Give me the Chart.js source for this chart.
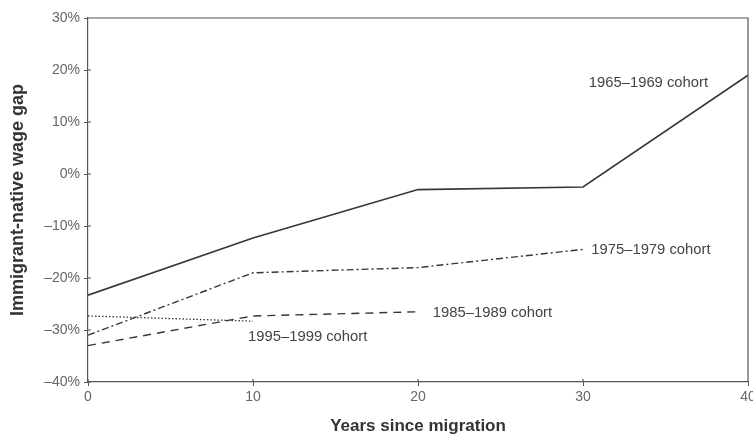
<!DOCTYPE html>
<html>
<head>
<meta charset="utf-8">
<script src="https://cdn.jsdelivr.net/npm/chart.js@4"></script>
<style>
  html, body { margin: 0; padding: 0; background: #fff; }
  #wrap { width: 753px; height: 437px; }
</style>
</head>
<body>
<div id="wrap"><canvas id="chart" width="753" height="437"></canvas></div>
<script>
// Years since migration
const years = [0, 10, 20, 30, 40];

// Immigrant-native wage gap (%) per arrival cohort
const cohort1965 = [-23.3, -12.3, -3, -2.5, 19];
const cohort1975 = [-31, -19, -18, -14.5];
const cohort1985 = [-33, -27.3, -26.5];
const cohort1995 = [-27.3, -28.3];

const cohortNames = ['1965\u20131969 cohort', '1975\u20131979 cohort', '1985\u20131989 cohort', '1995\u20131999 cohort'];

// where each cohort name sits (data coordinates, left edge of the text)
const labelSpots = [
    { x: 30.35, y: 17.5 },
    { x: 30.5, y: -14.6 },
    { x: 20.9, y: -26.7 },
    { x: 9.7, y: -31.35 }
];

const yTicks = [-40, -30, -20, -10, 0, 10, 20, 30];

const ink = '#363636';
const axisGray = '#555';
const fontFam = '"Liberation Sans", Arial, sans-serif';

function toPoints(values) {
    return values.map((v, i) => ({ x: years[i], y: v }));
}

// Frame round the plot, inner tick stubs and the cohort names
const framePlugin = {
    id: 'frame',
    afterDatasetsDraw(chart) {
        const { ctx, chartArea, scales } = chart;
        ctx.save();
        ctx.strokeStyle = axisGray;
        ctx.lineWidth = 1.2;
        ctx.beginPath();
        ctx.moveTo(chartArea.left, chartArea.top);
        ctx.lineTo(chartArea.right, chartArea.top);
        ctx.lineTo(chartArea.right, chartArea.bottom);
        // tick marks poke a little into the plot as well
        scales.y.ticks.forEach(t => {
            const py = scales.y.getPixelForValue(t.value);
            ctx.moveTo(chartArea.left, py);
            ctx.lineTo(chartArea.left + 3, py);
        });
        scales.x.ticks.forEach(t => {
            const px = scales.x.getPixelForValue(t.value);
            ctx.moveTo(px, chartArea.bottom);
            ctx.lineTo(px, chartArea.bottom - 3);
        });
        ctx.stroke();

        ctx.fillStyle = '#444';
        ctx.font = '14.8px ' + fontFam;
        ctx.textBaseline = 'middle';
        ctx.textAlign = 'left';
        labelSpots.forEach((spot, i) => {
            ctx.fillText(cohortNames[i], scales.x.getPixelForValue(spot.x), scales.y.getPixelForValue(spot.y));
        });
        ctx.restore();
    }
};

const ctx = document.getElementById('chart').getContext('2d');

new Chart(ctx, {
    type: 'line',
    data: {
        datasets: [
            { label: cohortNames[0], data: toPoints(cohort1965), borderColor: ink, borderWidth: 1.6 },
            { label: cohortNames[1], data: toPoints(cohort1975), borderColor: ink, borderWidth: 1.4, borderDash: [7, 3, 2, 3] },
            { label: cohortNames[2], data: toPoints(cohort1985), borderColor: ink, borderWidth: 1.4, borderDash: [8, 6] },
            { label: cohortNames[3], data: toPoints(cohort1995), borderColor: ink, borderWidth: 1.3, borderDash: [1.5, 2] }
        ]
    },
    options: {
        responsive: false,
        animation: false,
        elements: {
            point: { radius: 0 },
            line: { tension: 0, fill: false }
        },
        layout: { padding: { top: 18, right: 5, left: 0, bottom: 0 } },
        plugins: {
            legend: { display: false },
            tooltip: { enabled: false }
        },
        scales: {
            x: {
                type: 'linear',
                min: 0,
                max: 40,
                ticks: {
                    stepSize: 10,
                    color: '#666',
                    font: { size: 14, family: fontFam },
                    padding: 3,
                    maxRotation: 0
                },
                grid: { drawOnChartArea: false, tickLength: 4, color: axisGray },
                border: { color: axisGray, width: 1.2 },
                title: {
                    display: true,
                    text: 'Years since migration',
                    color: '#333',
                    font: { size: 17, weight: 'bold', family: fontFam },
                    padding: { top: 4, bottom: 0 }
                },
                afterFit(scale) {
                    scale.height = 55;
                    scale.paddingLeft = 0;
                    scale.paddingRight = 0;
                }
            },
            y: {
                min: -40,
                max: 30,
                afterBuildTicks(scale) {
                    scale.ticks = yTicks.map(v => ({ value: v }));
                },
                ticks: {
                    color: '#666',
                    font: { size: 14, family: fontFam },
                    padding: 4,
                    callback: v => (v < 0 ? '\u2013' + Math.abs(v) : v) + '%'
                },
                grid: { drawOnChartArea: false, tickLength: 4, color: axisGray },
                border: { color: axisGray, width: 1.2 },
                title: {
                    display: true,
                    text: 'Immigrant-native wage gap',
                    color: '#333',
                    font: { size: 18, weight: 'bold', family: fontFam },
                    padding: { top: 7, bottom: 4 }
                },
                afterFit(scale) {
                    scale.width = 88;
                }
            }
        }
    },
    plugins: [framePlugin]
});
</script>
</body>
</html>
